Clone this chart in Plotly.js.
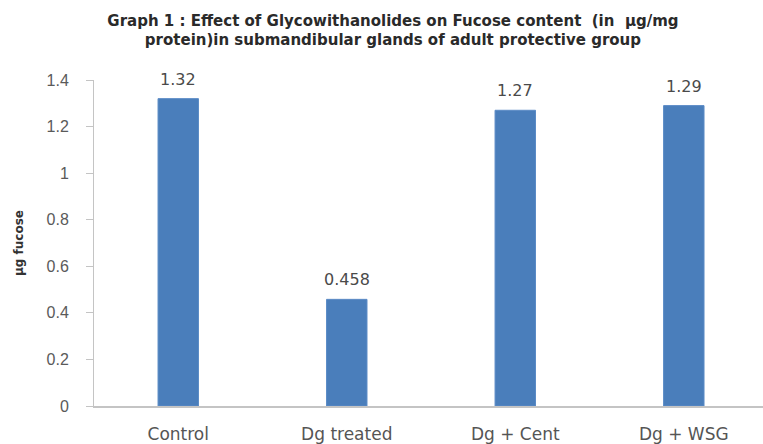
<!DOCTYPE html>
<html>
<head>
<meta charset="utf-8">
<script src="https://cdn.plot.ly/plotly-3.0.1.min.js"></script>
<style>html,body{margin:0;padding:0;background:#fff;}#chart{width:763px;height:444px;}</style>
</head>
<body>
<div id="chart"></div>
<script>
const categories = ["Control", "Dg treated", "Dg + Cent", "Dg + WSG"];
const fucoseValues = [1.32, 0.458, 1.27, 1.29];
const valueLabels = ["1.32", "0.458", "1.27", "1.29"];
const yTickValues = [0, 0.2, 0.4, 0.6, 0.8, 1, 1.2, 1.4];
const yTickLabels = ["0", "0.2", "0.4", "0.6", "0.8", "1", "1.2", "1.4"];
const chartTitle = "Graph 1 : Effect of Glycowithanolides on Fucose content  (in  µg/mg<br>protein)in submandibular glands of adult protective group";
const yTitle = "µg fucose";

const trace = {
  type: "bar",
  x: categories,
  y: fucoseValues,
  width: 0.24,
  marker: {color: "#4a7ebb", line: {color: "#5b8bc6", width: 1}},
  hoverinfo: "x+y",
  cliponaxis: false
};

const annotations = categories.map((c, i) => ({
  x: c, y: fucoseValues[i], xref: "x", yref: "y",
  text: valueLabels[i], showarrow: false,
  yanchor: "bottom", yshift: 8,
  font: {family: "DejaVu Sans, sans-serif", size: 16, color: "#4a4a4a"}
}));

const layout = {
  width: 763, height: 444,
  margin: {l: 94, r: 0, t: 80, b: 38, pad: 0},
  paper_bgcolor: "#ffffff", plot_bgcolor: "#ffffff",
  showlegend: false,
  title: {
    text: "<b>" + chartTitle + "</b>",
    x: 0.515, xanchor: "center", y: 0.942, yanchor: "top",
    font: {family: "DejaVu Sans, sans-serif", size: 15, color: "#2a2a2a"}
  },
  xaxis: {
    type: "category",
    range: [-0.5, 3.47],
    showline: true, linecolor: "#c4c4c4", linewidth: 2,
    showgrid: false, zeroline: false, ticks: "",
    ticklabelstandoff: 12,
    tickfont: {family: "DejaVu Sans, sans-serif", size: 17, color: "#555555"},
    fixedrange: true
  },
  yaxis: {
    range: [0, 1.4],
    tickvals: yTickValues, ticktext: yTickLabels,
    showline: true, linecolor: "#c4c4c4", linewidth: 1,
    showgrid: false, zeroline: false,
    ticks: "outside", ticklen: 7, tickcolor: "#c4c4c4", tickwidth: 1,
    ticklabelstandoff: 14,
    tickfont: {family: "Liberation Sans, Arial, sans-serif", size: 16, color: "#5a5a5a"},
    title: {text: "<b>" + yTitle + "</b>", standoff: 20,
      font: {family: "DejaVu Sans, sans-serif", size: 12, color: "#333333"}},
    automargin: false,
    fixedrange: true
  },
  annotations: annotations,
  font: {family: "DejaVu Sans, sans-serif"}
};

Plotly.newPlot("chart", [trace], layout, {displayModeBar: false, staticPlot: true});
</script>
</body>
</html>
